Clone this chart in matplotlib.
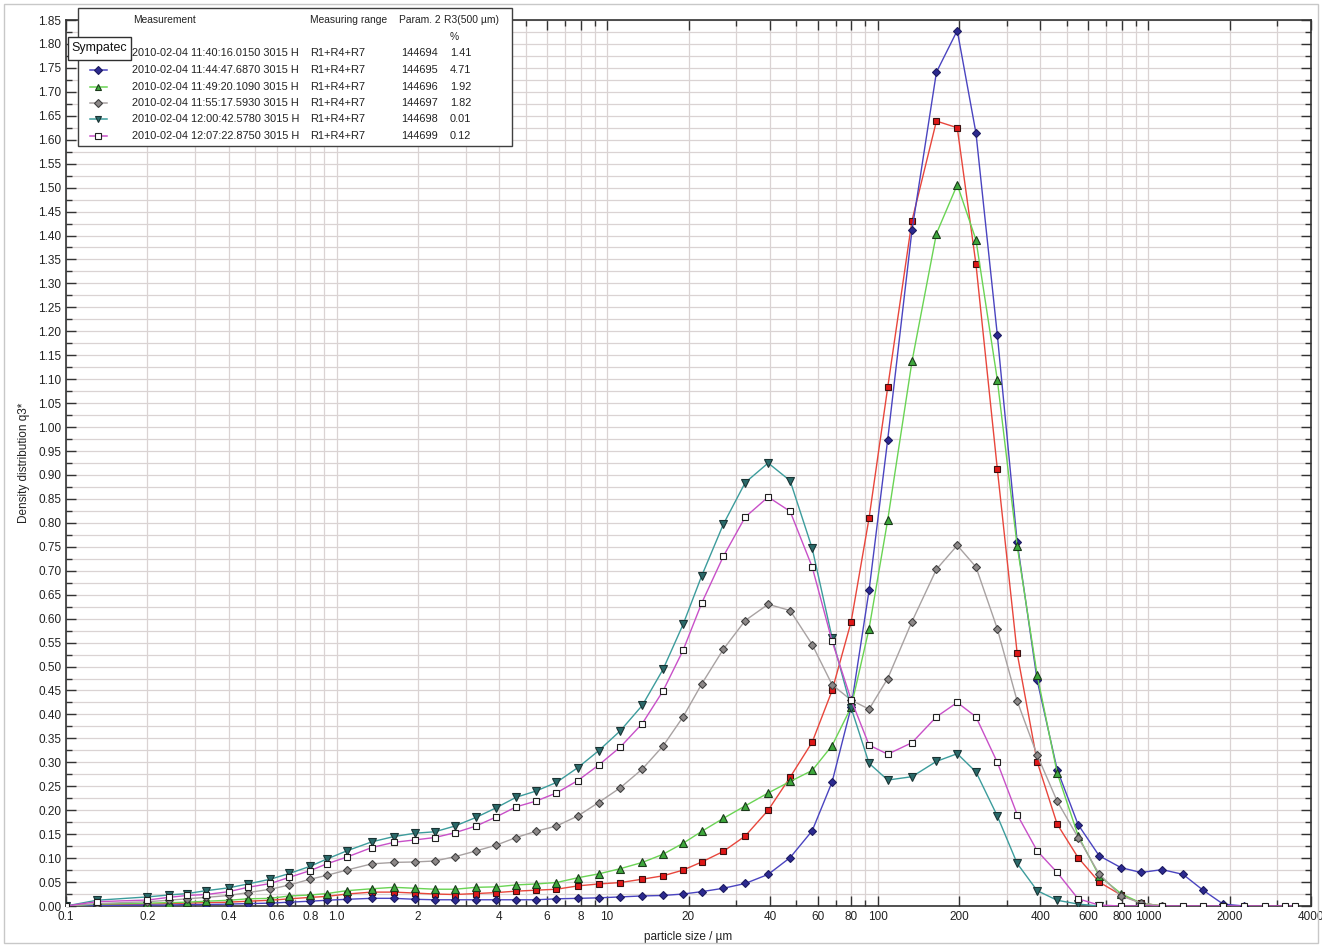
import numpy as np
import matplotlib.pyplot as plt
from matplotlib.lines import Line2D
from matplotlib.patches import Rectangle
from matplotlib.ticker import FixedLocator, FixedFormatter, MultipleLocator

plt.rcParams['font.family'] = ['Liberation Sans', 'DejaVu Sans']

# class positions (particle size, um) shared by all measurements
size_um = [0.10, 0.13, 0.20, 0.24, 0.28, 0.33, 0.40, 0.47, 0.57, 0.67,
           0.80, 0.92, 1.09, 1.35, 1.63, 1.95, 2.31, 2.74, 3.28, 3.89,
           4.61, 5.46, 6.5, 7.8, 9.3, 11.2, 13.5, 16.1, 19.1, 22.4,
           26.9, 32.4, 39.4, 47.5, 57.3, 67.9, 79.8, 93, 109, 134,
           165, 197, 231, 277, 328, 389, 461, 551, 659, 794,
           942, 1127, 1346, 1596, 1893, 2264, 2706, 3209, 3494]

# density distribution q3* per measurement (trailing classes are empty)
q3_114016 = [0.0, 0.003, 0.004, 0.005, 0.006, 0.007, 0.008, 0.010, 0.012, 0.015,
             0.018, 0.020, 0.025, 0.029, 0.029, 0.027, 0.025, 0.024, 0.026, 0.028,
             0.031, 0.033, 0.035, 0.042, 0.046, 0.049, 0.056, 0.063, 0.075, 0.092,
             0.114, 0.146, 0.200, 0.269, 0.342, 0.450, 0.593, 0.810, 1.083, 1.431,
             1.639, 1.625, 1.340, 0.913, 0.528, 0.301, 0.171, 0.101, 0.050, 0.023,
             0.006, 0.0]
q3_114447 = [0.0, 0.001, 0.002, 0.002, 0.003, 0.003, 0.004, 0.005, 0.006, 0.008,
             0.010, 0.012, 0.014, 0.016, 0.016, 0.014, 0.013, 0.013, 0.013, 0.013,
             0.013, 0.013, 0.015, 0.016, 0.017, 0.019, 0.021, 0.022, 0.025, 0.030,
             0.037, 0.047, 0.066, 0.101, 0.157, 0.259, 0.415, 0.659, 0.974, 1.411,
             1.741, 1.828, 1.614, 1.193, 0.760, 0.471, 0.285, 0.170, 0.105, 0.080,
             0.070, 0.076, 0.066, 0.033, 0.004, 0.0]
q3_114920 = [0.0, 0.004, 0.006, 0.007, 0.008, 0.010, 0.012, 0.015, 0.016, 0.021,
             0.023, 0.026, 0.032, 0.036, 0.039, 0.037, 0.035, 0.035, 0.039, 0.040,
             0.044, 0.046, 0.049, 0.059, 0.067, 0.078, 0.091, 0.108, 0.131, 0.156,
             0.183, 0.209, 0.236, 0.260, 0.283, 0.335, 0.415, 0.579, 0.806, 1.137,
             1.404, 1.506, 1.391, 1.099, 0.752, 0.482, 0.278, 0.147, 0.063, 0.026,
             0.006, 0.0]
q3_115517 = [0.0, 0.005, 0.009, 0.012, 0.015, 0.018, 0.022, 0.028, 0.035, 0.044,
             0.056, 0.064, 0.075, 0.088, 0.091, 0.092, 0.094, 0.103, 0.115, 0.127,
             0.143, 0.156, 0.167, 0.188, 0.216, 0.247, 0.286, 0.334, 0.395, 0.464,
             0.536, 0.596, 0.630, 0.617, 0.546, 0.462, 0.430, 0.411, 0.475, 0.594,
             0.703, 0.753, 0.708, 0.579, 0.428, 0.315, 0.219, 0.143, 0.067, 0.021,
             0.006, 0.0]
q3_120042 = [0.0, 0.012, 0.019, 0.023, 0.026, 0.032, 0.038, 0.046, 0.056, 0.068,
             0.083, 0.098, 0.115, 0.134, 0.145, 0.152, 0.155, 0.167, 0.185, 0.205,
             0.227, 0.240, 0.258, 0.289, 0.324, 0.366, 0.419, 0.494, 0.588, 0.690,
             0.797, 0.884, 0.925, 0.888, 0.747, 0.560, 0.414, 0.298, 0.263, 0.270,
             0.302, 0.318, 0.280, 0.188, 0.089, 0.032, 0.012, 0.004, 0.0]
q3_120722 = [0.0, 0.009, 0.0125, 0.018, 0.022, 0.024, 0.030, 0.039, 0.047, 0.060,
             0.074, 0.088, 0.102, 0.122, 0.133, 0.138, 0.143, 0.153, 0.167, 0.186,
             0.207, 0.219, 0.236, 0.262, 0.294, 0.332, 0.381, 0.449, 0.534, 0.633,
             0.730, 0.812, 0.854, 0.824, 0.708, 0.553, 0.431, 0.336, 0.317, 0.341,
             0.395, 0.425, 0.395, 0.300, 0.191, 0.115, 0.070, 0.015, 0.002, 0.0,
             0.0, 0.0, 0.0, 0.0, 0.0, 0.0, 0.0, 0.0, 0.0]

measurements = ['2010-02-04 11:40:16.0150 3015 H', '2010-02-04 11:44:47.6870 3015 H',
                '2010-02-04 11:49:20.1090 3015 H', '2010-02-04 11:55:17.5930 3015 H',
                '2010-02-04 12:00:42.5780 3015 H', '2010-02-04 12:07:22.8750 3015 H']
ranges = ['R1+R4+R7'] * 6
param2 = ['144694', '144695', '144696', '144697', '144698', '144699']
r3_500 = ['1.41', '4.71', '1.92', '1.82', '0.01', '0.12']

x_major = [0.1, 0.2, 0.4, 0.6, 0.8, 1, 2, 4, 6, 8, 10, 20, 40, 60, 80, 100,
           200, 400, 600, 800, 1000, 2000, 4000]
x_labels = ['0.1', '0.2', '0.4', '0.6', '0.8', '1.0', '2', '4', '6', '8', '10',
            '20', '40', '60', '80', '100', '200', '400', '600', '800', '1000',
            '2000', '4000']
x_minor = [0.3, 0.5, 0.7, 0.9, 3, 5, 7, 9, 30, 50, 70, 90, 300, 500, 700, 900, 3000]

# (values, line colour, marker, face, edge, marker size)
series = [
    (q3_114016, '#e8463c', 's', '#e01818', '#3a1010', 5.0),
    (q3_114447, '#4a44c0', 'D', '#2c2a90', '#1c1a60', 4.0),
    (q3_114920, '#6ad454', '^', '#3ea83c', '#1a3a1a', 5.5),
    (q3_115517, '#a8a2a2', 'D', '#8c8888', '#404040', 4.2),
    (q3_120042, '#3c9c9c', 'v', '#2a6a6a', '#1a3434', 5.5),
    (q3_120722, '#c850c8', 's', 'white', '#202020', 5.0),
]

W, H = 1322, 947
fig = plt.figure(figsize=(W / 100, H / 100), dpi=100)
ax = fig.add_axes([66 / W, 1 - 906 / H, (1311 - 66) / W, (906 - 20) / H])

for vals, lc, mk, mfc, mec, ms in series:
    ax.plot(size_um[:len(vals)], vals, color=lc, lw=1.0, marker=mk, ms=ms,
            mfc=mfc, mec=mec, mew=0.8, zorder=3)

ax.set_xscale('log')
ax.set_xlim(0.1, 4000)
ax.set_ylim(0, 1.85)
ax.xaxis.set_major_locator(FixedLocator(x_major))
ax.xaxis.set_major_formatter(FixedFormatter(x_labels))
ax.xaxis.set_minor_locator(FixedLocator(x_minor))
ax.xaxis.set_minor_formatter(FixedFormatter([''] * len(x_minor)))
ax.yaxis.set_major_locator(MultipleLocator(0.05))
ax.yaxis.set_minor_locator(MultipleLocator(0.025))
ax.yaxis.set_major_formatter(plt.FuncFormatter(lambda v, p: '%.2f' % v))

ax.tick_params(which='both', direction='in', top=True, right=True,
               labelsize=8.5, labelcolor='#222222', color='#333333')
ax.tick_params(which='major', length=7, width=1)
ax.tick_params(which='minor', length=4, width=1)
ax.grid(which='both', color='#dad3d3', lw=0.9, zorder=0)
ax.set_axisbelow(True)
for sp in ax.spines.values():
    sp.set_color('#333333')
    sp.set_linewidth(1.2)

ax.set_xlabel('particle size / µm', fontsize=8.5, color='#222222', labelpad=6)
ax.set_ylabel('Density distribution q3*', fontsize=8.5, color='#222222', labelpad=6)


def fp(x, y):
    return x / W, 1 - y / H


# legend table
x0, y0 = fp(78, 146)
fig.add_artist(Rectangle((x0, y0), 434 / W, 138 / H, transform=fig.transFigure,
                         facecolor='white', edgecolor='#404040', lw=1.0, zorder=5))
hdr = dict(fontsize=7.4, color='#222222', va='center', ha='left', zorder=6)
row = dict(fontsize=7.9, color='#222222', va='center', ha='left', zorder=6)
fig.text(*fp(133, 20), 'Measurement', **hdr)
fig.text(*fp(310, 20), 'Measuring range', **hdr)
fig.text(*fp(399, 20), 'Param. 2', **hdr)
fig.text(*fp(444, 20), 'R3(500 µm)', **hdr)
fig.text(*fp(450, 37), '%', **hdr)
row_y = [53, 70, 87, 103, 119, 136]
for i, (vals, lc, mk, mfc, mec, ms) in enumerate(series):
    yy = row_y[i]
    fig.add_artist(Line2D([90 / W, 107 / W], [1 - yy / H, 1 - yy / H],
                          transform=fig.transFigure, color=lc, lw=1.1, zorder=6))
    fig.add_artist(Line2D([98 / W], [1 - yy / H], transform=fig.transFigure,
                          marker=mk, ms=ms * 0.9, mfc=mfc, mec=mec, mew=0.8,
                          ls='none', zorder=6))
    fig.text(*fp(132, yy), measurements[i], **row)
    fig.text(*fp(310, yy), ranges[i], **row)
    fig.text(*fp(401, yy), param2[i], **row)
    fig.text(*fp(450, yy), r3_500[i], **row)

sx, sy = fp(68, 60)
fig.add_artist(Rectangle((sx, sy), 63 / W, 23 / H, transform=fig.transFigure,
                         facecolor='white', edgecolor='#303030', lw=1.0, zorder=7))
fig.text(*fp(99.5, 48.5), 'Sympatec', fontsize=9, color='#111111',
         ha='center', va='center', zorder=8)

# outer frame of the picture
fig.add_artist(Rectangle((4 / W, 4 / H), 1314 / W, 939 / H, transform=fig.transFigure,
                         facecolor='none', edgecolor='#c8c8c8', lw=1.0, zorder=1))

fig.savefig('out.png', dpi=100)
